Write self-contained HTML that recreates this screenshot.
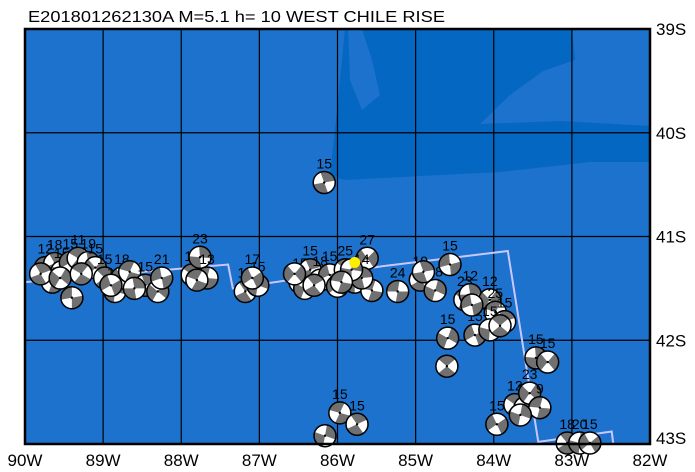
<!DOCTYPE html>
<html><head><meta charset="utf-8"><style>
html,body{margin:0;padding:0;background:#fff;width:695px;height:472px;overflow:hidden}
svg{display:block;font-family:"Liberation Sans",sans-serif}
</style></head><body>
<svg id="map" width="695" height="472">
<text x="28" y="22" font-size="16" textLength="417" lengthAdjust="spacingAndGlyphs" fill="#000">E201801262130A  M=5.1  h=  10 WEST CHILE RISE</text>
<g id="plot"></g>
</svg>
<script>
const lons=[-89.74,-89.62,-89.53,-89.42,-89.32,-89.19,-89.1,-89.4,-89.65,-88.98,-88.85,-88.76,-88.66,-88.46,-88.3,-88.25,-87.86,-87.76,-87.67,-87.18,-87.02,-87.09,-86.48,-86.35,-86.22,-86.1,-85.9,-85.78,-85.62,-85.56,-85.69,-85.23,-84.94,-84.75,-84.56,-84.37,-84.3,-84.05,-83.98,-83.86,-84.59,-84.24,-84.05,-84.6,-83.46,-83.31,-86.17,-85.97,-85.75,-86.16,-83.96,-83.73,-83.6,-83.54,-83.41,-83.06,-82.9,-82.77,-89.8,-89.55,-89.28,-88.9,-88.6,-87.8,-86.42,-86.3,-86.0,-85.82,-85.95,-84.9,-84.28,-83.92,-83.66,-86.55];
const lats=[-41.3,-41.26,-41.34,-41.25,-41.21,-41.25,-41.3,-41.59,-41.44,-41.4,-41.53,-41.4,-41.34,-41.47,-41.53,-41.4,-41.37,-41.2,-41.4,-41.53,-41.47,-41.4,-41.44,-41.32,-41.42,-41.37,-41.32,-41.44,-41.21,-41.52,-41.4,-41.53,-41.42,-41.52,-41.27,-41.61,-41.56,-41.61,-41.73,-41.82,-41.98,-41.95,-41.9,-42.25,-42.17,-42.21,-40.48,-42.7,-42.81,-42.92,-42.81,-42.62,-42.65,-42.51,-42.65,-42.99,-42.99,-42.99,-41.36,-41.4,-41.36,-41.47,-41.5,-41.42,-41.5,-41.47,-41.48,-41.32,-41.44,-41.34,-41.66,-41.86,-42.72,-41.36];
const depths=[12,18,15,15,11,19,15,15,12,15,15,18,15,15,15,21,15,23,13,15,15,17,15,15,18,15,25,18,27,15,14,24,19,18,15,23,12,12,25,15,15,15,15,15,15,15,15,15,15,15,15,12,28,23,9,18,20,15,15,15,15,15,15,15,15,15,15,15,15,15,15,15,15,15];
const strikes=[20,60,110,150,30,80,130,170,10,45,95,140,15,70,120,160,35,85,5,55,100,145,25,65,115,155,40,90,135,10,75,0,50,105,165,30,80,125,20,60,110,150,95,40,85,130,70,15,55,100,145,35,80,125,5,50,95,140,60,120,30,150,80,20,110,50,140,90,10,70,160,40,100,130];
const labelShown=[1,1,1,1,1,1,1,0,0,1,1,1,0,1,0,1,1,1,1,1,1,1,1,1,1,1,1,0,1,0,1,1,1,1,1,1,1,1,1,1,1,1,1,0,1,1,1,1,1,0,1,1,1,1,1,1,1,1,0,0,0,0,0,0,0,0,0,0,0,0,0,0,0,0];
const lonTicks=[-90,-89,-88,-87,-86,-85,-84,-83,-82];
const latTicks=[-39,-40,-41,-42,-43];
const lonLabels=["90W","89W","88W","87W","86W","85W","84W","83W","82W"];
const latLabels=["39S","40S","41S","42S","43S"];
const mainLon=-85.78, mainLat=-41.25;
const bndLons=[-90,-87.4,-87.34,-85.46,-83.82,-83.43,-82.49,-82.47];
const bndLats=[-41.44,-41.27,-41.5,-41.29,-41.14,-42.98,-42.88,-43.0];

const X0=25,X1=650,Y0=29,Y1=444;
const xs=lon=>X0+(lon+90)/8*(X1-X0);
const ys=lat=>Y0+(-39-lat)/4*(Y1-Y0);
const NS="http://www.w3.org/2000/svg";
const g=document.getElementById('plot');
function mk(t,a,p){const e=document.createElementNS(NS,t);for(const k in a)e.setAttribute(k,a[k]);(p||g).appendChild(e);return e;}

const bg=mk('rect',{x:X0,y:Y0,width:X1-X0,height:Y1-Y0,fill:'#1c72cc'});


const sh1=mk('path',{d:'M345,29 L572,29 L575,60 L543,71 L510,95 L480,124 L560,121 L650,126 L650,162 L590,162 L500,172 L420,176 L345,180 L330,176 L336,120 L342,60 Z',fill:'#0467c2'});


const sh2=mk('path',{d:'M348,29 L362,29 L372,60 L380,95 L362,110 L350,80 Z',fill:'#1c72cc'});



lonTicks.forEach((v,i)=>{
  const l=mk('line',{x1:xs(v),x2:xs(v),y1:Y0,y2:Y1,stroke:'#000','stroke-width':1.2});
  
  
  const t=mk('text',{x:xs(v),y:466,'font-size':17,'text-anchor':'middle',fill:'#000'});
  t.textContent=lonLabels[i];
  
  
});
latTicks.forEach((v,i)=>{
  const l=mk('line',{x1:X0,x2:X1,y1:ys(v),y2:ys(v),stroke:'#000','stroke-width':1.2});
  
  
  const t=mk('text',{x:656,y:ys(v)+(i==4?0:6),'font-size':17,fill:'#000'});
  t.textContent=latLabels[i];
  
  
});

const bnd=mk('polyline',{points:bndLons.map((v,i)=>xs(v)+','+ys(bndLats[i])).join(' '),fill:'none',stroke:'#c8c8ff','stroke-width':2});



const R=11;
function arcPath(cx,cy,a0,a1){const r=a=>a*Math.PI/180;
  return `M${cx},${cy} L${cx+R*Math.cos(r(a0))},${cy+R*Math.sin(r(a0))} A${R},${R} 0 0 1 ${cx+R*Math.cos(r(a1))},${cy+R*Math.sin(r(a1))} Z`;}
lons.forEach((lon,i)=>{
  const cx=xs(lon),cy=ys(lats[i]),s=strikes[i];
  const bg2=mk('g',{});
  
  
  mk('circle',{cx,cy,r:R,fill:'#fff'},bg2);
  mk('path',{d:arcPath(cx,cy,s,s+100),fill:'#707070'},bg2);
  mk('path',{d:arcPath(cx,cy,s+180,s+280),fill:'#707070'},bg2);
  mk('circle',{cx,cy,r:R,fill:'none',stroke:'#000','stroke-width':1.5},bg2);
  mk('circle',{cx,cy,r:1.2,fill:'#000'},bg2);
  if(labelShown[i]){
    const t=mk('text',{x:cx,y:cy-R-3,'font-size':14,'text-anchor':'middle',fill:'#000'});
    t.textContent=depths[i];
    
    
  }
});
const ep=mk('circle',{cx:xs(mainLon),cy:ys(mainLat),r:5.5,fill:'#ffee00'});


const fr=mk('rect',{x:X0,y:Y0,width:X1-X0,height:Y1-Y0,fill:'none',stroke:'#000','stroke-width':2.5});


</script>
</body></html>
